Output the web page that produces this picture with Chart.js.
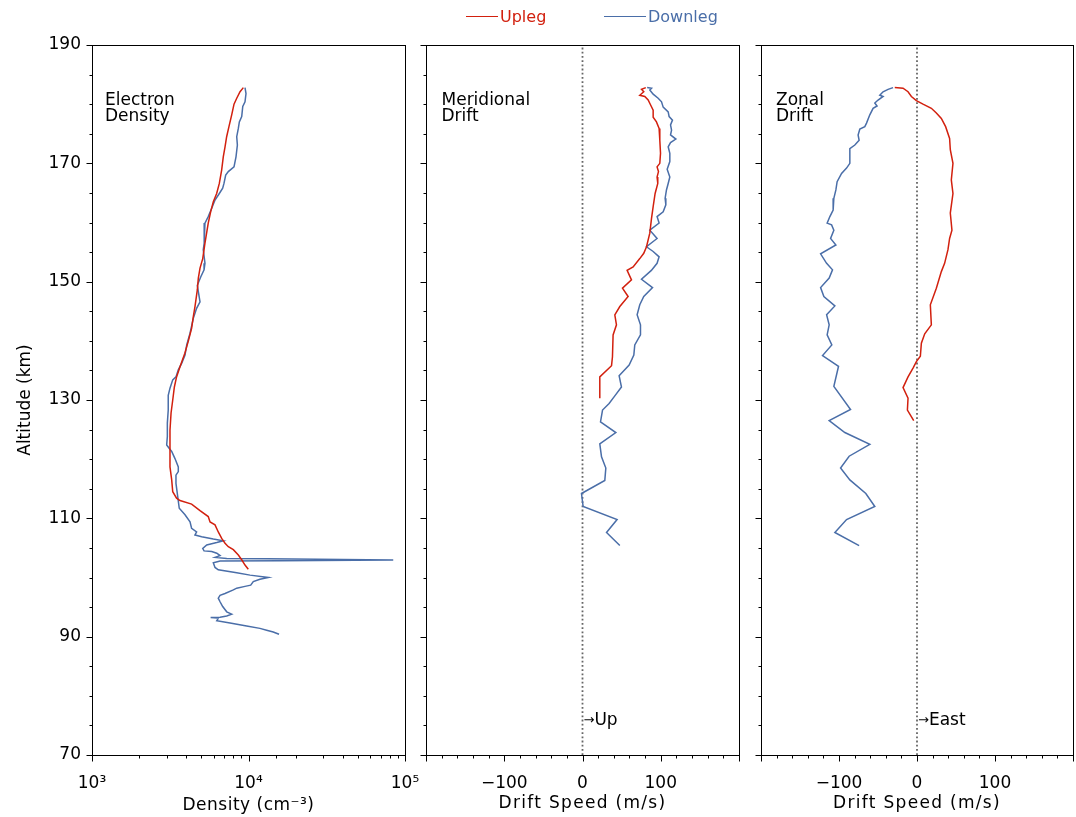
<!DOCTYPE html>
<html>
<head>
<meta charset="utf-8">
<script src="https://cdn.jsdelivr.net/npm/chart.js@4.4.1/dist/chart.umd.min.js"></script>
<style>
html,body{margin:0;padding:0;background:#fff;}
#wrap{position:relative;width:1076px;height:817px;overflow:hidden;font-family:"DejaVu Sans";background:#fff;}
canvas{position:absolute;top:0;}
.lg-line{position:absolute;height:0;border-top:1.5px solid;}
.lg-text{position:absolute;font-size:16px;line-height:16px;white-space:nowrap;}
</style>
</head>
<body>
<div id="wrap">
  <canvas id="c1" width="420" height="817" style="left:0px"></canvas>
  <canvas id="c2" width="350" height="817" style="left:406px"></canvas>
  <canvas id="c3" width="335" height="817" style="left:741px"></canvas>
  <div class="lg-line" style="left:466px;top:16px;width:32px;border-color:#d2200e"></div>
  <div class="lg-text" style="left:500px;top:9px;color:#d2200e">Upleg</div>
  <div class="lg-line" style="left:604px;top:16px;width:42px;border-color:#4a6ea8"></div>
  <div class="lg-text" style="left:648px;top:9px;color:#4a6ea8">Downleg</div>
</div>
<script>
// ---------------- data: [altitude km, value] ----------------
const upDensity = [[182.8,9270],[182.1,8830],[181.0,8410],[180.0,8080],[178.2,7810],[176.2,7500],[174.5,7250],[172.8,7080],[171.1,6900],[168.9,6740],[166.6,6510],[164.9,6260],[163.5,5960],[161.8,5730],[159.9,5530],[156.5,5270],[153.9,5100],[152.3,4900],[150.6,4780],[148.6,4710],[145.8,4550],[144.1,4440],[142.1,4330],[139.9,4120],[137.9,3920],[135.6,3650],[133.9,3470],[132.2,3360],[130.0,3280],[127.8,3200],[124.9,3150],[121.6,3150],[118.7,3150],[116.5,3230],[114.5,3280],[113.4,3470],[113.0,3650],[112.4,4330],[111.3,4900],[110.3,5530],[109.4,5680],[108.9,6110],[107.7,6410],[106.6,6740],[105.8,7080],[105.2,7430],[104.7,8000],[103.8,8610],[103.0,9050],[102.1,9500],[101.4,9970]];
const downDensity = [[182.8,9500],[181.8,9640],[180.4,9500],[179.6,9190],[177.9,9050],[177.0,8740],[175.9,8610],[174.5,8410],[173.1,8490],[171.1,8320],[169.4,8080],[168.6,7430],[168.0,7150],[166.6,6970],[165.8,6840],[164.9,6510],[163.8,6110],[162.4,5820],[161.0,5530],[159.9,5270],[158.7,5200],[156.5,5220],[155.4,5140],[153.1,5270],[152.0,5200],[150.8,4950],[149.4,4710],[148.3,4780],[146.6,4900],[145.5,4660],[143.8,4440],[141.3,4230],[139.3,4030],[137.6,3930],[136.2,3740],[135.1,3560],[133.9,3440],[133.4,3280],[132.0,3150],[130.8,3070],[128.3,3070],[126.1,3030],[123.8,3030],[122.4,3000],[121.8,3120],[121.3,3230],[120.1,3390],[118.7,3560],[117.9,3560],[117.3,3440],[115.9,3440],[113.4,3540],[111.7,3610],[110.6,3930],[109.4,4230],[108.3,4330],[107.7,4660],[107.2,4550],[106.9,5020],[106.5,5960],[106.2,6900],[105.9,6270],[105.5,5410],[104.9,5100],[104.5,5200],[104.4,5820],[104.1,6270],[103.7,6580],[103.4,6110],[103.2,7260],[103.15,13060],[102.95,84100],[102.85,15900],[102.8,6580],[102.5,5960],[101.7,6110],[101.3,6410],[100.8,8410],[100.4,10230],[100.0,13400],[99.7,11830],[99.3,10730],[98.7,10330],[98.5,9500],[98.2,8410],[97.9,8000],[97.3,7080],[97.0,6580],[96.5,6410],[95.9,6580],[95.1,6840],[94.2,7260],[93.8,7810],[93.5,7260],[93.3,6580],[93.25,5730],[93.1,6410],[92.7,6270],[92.3,7620],[91.8,9730],[91.4,11830],[91.1,13060],[90.8,14390],[90.4,15670]];
const upMeridional = [[182.8,80.9],[182.5,75.4],[182.1,78.3],[181.5,73.2],[181.3,79.6],[180.7,83.9],[179.9,86.9],[179.0,90.3],[177.8,90.3],[177.0,94.5],[175.9,97.9],[173.9,98.8],[171.7,99.7],[170.0,98.8],[169.4,95.3],[168.6,97.1],[167.7,95.3],[166.6,96.2],[164.9,92.8],[162.7,90.3],[160.7,88.2],[158.2,86.0],[155.9,81.8],[154.8,78.3],[153.9,73.2],[152.5,64.7],[151.9,57.0],[150.3,62.6],[148.9,51.1],[147.5,58.3],[145.8,47.7],[144.4,41.3],[142.7,43.4],[141.0,39.1],[137.3,38.3],[135.8,37.1],[133.9,22.1],[130.3,22.1]];
const downMeridional = [[182.8,82.6],[182.7,88.2],[182.4,86.0],[181.7,90.3],[181.0,96.7],[180.4,101.0],[179.5,103.1],[178.7,109.5],[177.9,110.7],[177.3,115.0],[176.5,112.5],[175.6,113.8],[174.8,112.5],[174.1,119.3],[173.5,112.5],[172.8,109.5],[171.7,111.6],[170.3,111.6],[169.0,108.2],[167.7,111.6],[166.6,109.5],[165.5,107.3],[164.1,105.6],[163.0,106.5],[161.8,103.1],[161.0,95.3],[159.9,97.9],[158.7,86.0],[157.3,95.3],[155.9,81.8],[155.1,90.3],[154.2,97.9],[153.1,95.3],[151.9,88.0],[150.4,75.4],[149.0,89.5],[147.5,78.3],[146.1,73.2],[144.4,69.8],[142.7,74.1],[141.0,74.1],[139.3,66.8],[137.6,65.6],[135.9,59.6],[134.1,46.8],[132.2,49.8],[130.7,41.3],[129.4,34.0],[128.3,25.6],[126.3,23.0],[124.5,42.6],[122.6,22.1],[120.4,24.3],[118.5,29.8],[116.4,28.5],[114.2,-1.3],[112.0,0.8],[109.8,44.2],[107.6,30.7],[105.4,47.7]];
const upZonal = [[182.8,-28.5],[182.7,-17.9],[182.1,-11.5],[181.3,-7.2],[180.6,-0.8],[180.0,7.7],[179.3,18.4],[178.5,24.8],[177.6,31.2],[176.2,36.7],[174.2,41.8],[172.3,42.7],[170.0,46.1],[167.2,44.0],[164.9,46.1],[161.6,42.7],[158.7,44.8],[157.3,41.8],[155.4,39.7],[153.1,35.4],[151.7,31.2],[148.9,24.8],[146.1,17.1],[142.7,18.4],[141.2,9.9],[139.6,5.6],[137.4,4.3],[136.5,-0.8],[135.4,-5.1],[133.9,-11.5],[132.1,-17.9],[130.3,-11.5],[128.3,-12.3],[126.5,-4.2]];
const downZonal = [[182.8,-30.7],[182.5,-37.1],[182.1,-43.5],[181.5,-47.7],[181.3,-43.5],[180.7,-49.9],[180.2,-54.1],[179.7,-51.2],[179.3,-56.3],[178.2,-60.5],[176.8,-64.7],[176.2,-66.9],[175.8,-73.3],[174.8,-75.5],[173.9,-74.2],[173.1,-79.7],[172.5,-86.1],[170.0,-86.1],[169.2,-90.3],[168.3,-96.7],[166.9,-102.4],[165.5,-104.0],[164.1,-106.6],[162.1,-107.5],[161.0,-111.7],[159.9,-115.2],[159.6,-109.5],[158.7,-106.6],[157.3,-110.8],[156.2,-104.0],[154.7,-123.6],[153.1,-115.9],[152.0,-108.3],[150.6,-112.6],[149.0,-123.6],[147.5,-119.4],[145.9,-105.3],[144.4,-115.9],[142.7,-112.6],[141.0,-115.2],[139.3,-109.2],[137.5,-121.1],[135.7,-100.6],[132.3,-106.6],[128.4,-85.2],[126.5,-112.6],[124.5,-92.5],[122.5,-60.5],[120.5,-87.0],[118.5,-98.0],[116.5,-86.1],[114.2,-65.6],[112.0,-54.1],[109.8,-90.3],[107.6,-105.3],[105.4,-74.2]];

// ---------------- axes ----------------
const altRange = [70, 190];
const altTickLabels = [70, 90, 110, 130, 150, 170, 190];
const densRange = [1000, 100000];
const densTickLabels = {1000: '10³', 10000: '10⁴', 100000: '10⁵'};
const speedRange = [-200, 200];
const speedTickLabels = {'-100': '−100', '0': '0', '100': '100'};
const zeroRefSpeed = [0, 0];

const RED = '#d2200e', BLUE = '#4a6ea8';
Chart.defaults.font.family = '"DejaVu Sans"';
Chart.defaults.font.size = 17;
Chart.defaults.color = '#000';

function toPts(arr) { return arr.map(p => ({x: p[1], y: p[0]})); }
function isMajorAlt(v) { return (Math.round(v) - 70) % 20 === 0; }

function framePlugin(cfg) {
  return {
    id: 'frame',
    afterDraw(chart) {
      const ctx = chart.ctx, a = chart.chartArea;
      const xs = chart.scales.x, ys = chart.scales.y;
      const L = Math.round(a.left), R = Math.round(a.right), T = Math.round(a.top), B = Math.round(a.bottom);
      ctx.save();
      ctx.strokeStyle = '#000';
      ctx.lineWidth = 1;
      ctx.strokeRect(L + 0.5, T + 0.5, R - L, B - T);
      ctx.beginPath();
      xs.ticks.forEach(t => {
        const p = Math.round(xs.getPixelForValue(t.value)) + 0.5;
        const len = cfg.majorX(t.value) ? 6 : 3;
        ctx.moveTo(p, B + 0.5); ctx.lineTo(p, B + 0.5 + len);
      });
      ys.ticks.forEach(t => {
        const p = Math.round(ys.getPixelForValue(t.value)) + 0.5;
        const len = isMajorAlt(t.value) ? 6 : 3;
        ctx.moveTo(L + 0.5, p); ctx.lineTo(L + 0.5 - len, p);
      });
      ctx.stroke();
      ctx.fillStyle = '#000';
      ctx.font = '17px "DejaVu Sans"';
      ctx.textAlign = 'left';
      ctx.textBaseline = 'alphabetic';
      cfg.label.forEach((s, i) => ctx.fillText(s, a.left + cfg.labelDX, a.top + 60 + i * 16));
      if (cfg.note) {
        const x0 = xs.getPixelForValue(0);
        ctx.textBaseline = 'middle';
        ctx.font = '13px "DejaVu Sans"';
        ctx.fillText('→', x0 + 1, a.bottom - 34);
        const w = ctx.measureText('→').width;
        ctx.font = '17px "DejaVu Sans"';
        ctx.fillText(cfg.note, x0 + 1 + w, a.bottom - 34);
      }
      ctx.textAlign = 'center';
      ctx.textBaseline = 'alphabetic';
      ctx.font = '17px "DejaVu Sans"';
      if ('letterSpacing' in ctx) ctx.letterSpacing = cfg.titleSpacing;
      ctx.fillText(cfg.xTitle, (a.left + a.right) / 2, cfg.titleBase);
      ctx.restore();
    }
  };
}

function makePanel(id, cfg) {
  const datasets = [
    {label: 'Upleg', data: toPts(cfg.up), borderColor: RED},
    {label: 'Downleg', data: toPts(cfg.down), borderColor: BLUE}
  ];
  if (cfg.zero) {
    datasets.push({label: 'zero', data: zeroRefSpeed.map((v, i) => ({x: v, y: altRange[i]})),
      borderColor: '#666', borderWidth: 1.8, borderDash: [1.8, 2.4]});
  }
  datasets.forEach(d => { d.showLine = true; d.pointRadius = 0; d.fill = false; if (!d.borderWidth) d.borderWidth = 1.5; });
  return new Chart(document.getElementById(id), {
    type: 'scatter',
    data: {datasets},
    options: {
      responsive: false,
      animation: false,
      devicePixelRatio: 1,
      layout: {padding: {left: 0, right: cfg.padR, top: 45, bottom: 0}},
      plugins: {legend: {display: false}, tooltip: {enabled: false}},
      elements: {line: {tension: 0}},
      scales: {
        x: {
          type: cfg.log ? 'logarithmic' : 'linear',
          min: cfg.range[0], max: cfg.range[1],
          grid: {display: false, drawTicks: false, tickLength: 0},
          border: {display: false},
          ticks: Object.assign({autoSkip: false, maxRotation: 0, padding: 18, callback: cfg.xLabel}, cfg.log ? {} : {stepSize: 20}),
          afterFit: s => { s.height = 62; s.paddingLeft = 0; s.paddingRight = 0; }
        },
        y: {
          type: 'linear', min: altRange[0], max: altRange[1],
          grid: {display: false, drawTicks: false, tickLength: 0},
          border: {display: false},
          ticks: {stepSize: 5, autoSkip: false, padding: 11,
            callback: v => (cfg.yLabels && altTickLabels.includes(v)) ? String(v) : ''},
          title: {display: !!cfg.yTitle, text: cfg.yTitle || '', padding: {top: 15, bottom: 0}},
          afterFit: s => { s.width = cfg.yWidth; s.paddingTop = 0; s.paddingBottom = 0; }
        }
      }
    },
    plugins: [framePlugin(cfg)]
  });
}

makePanel('c1', {
  up: upDensity, down: downDensity, log: true, range: densRange, padR: 15, yWidth: 92,
  yLabels: true, yTitle: 'Altitude (km)',
  xLabel: v => densTickLabels[Math.round(v)] || '',
  majorX: v => Math.abs(Math.log10(v) - Math.round(Math.log10(v))) < 1e-6,
  label: ['Electron', 'Density'], labelDX: 13,
  xTitle: 'Density (cm⁻³)', titleBase: 810, titleSpacing: '0.5px'
});
makePanel('c2', {
  up: upMeridional, down: downMeridional, zero: true, range: speedRange, padR: 17, yWidth: 20,
  xLabel: v => speedTickLabels[String(v)] || '',
  majorX: v => Math.round(v) % 100 === 0,
  label: ['Meridional', 'Drift'], labelDX: 15.5, note: 'Up',
  xTitle: 'Drift Speed (m/s)', titleBase: 808, titleSpacing: '1.3px'
});
makePanel('c3', {
  up: upZonal, down: downZonal, zero: true, range: speedRange, padR: 3, yWidth: 20,
  xLabel: v => speedTickLabels[String(v)] || '',
  majorX: v => Math.round(v) % 100 === 0,
  label: ['Zonal', 'Drift'], labelDX: 15, note: 'East',
  xTitle: 'Drift Speed (m/s)', titleBase: 808, titleSpacing: '1.3px'
});
</script>
</body>
</html>
